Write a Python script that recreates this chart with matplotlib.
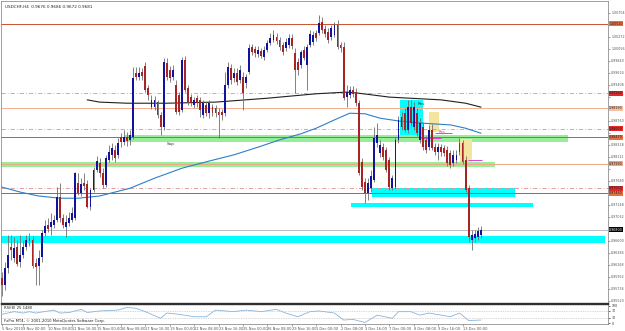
import numpy as np
import matplotlib
matplotlib.use('Agg')
import matplotlib.pyplot as plt
import matplotlib.transforms as mtransforms

title = 'USDCHF,H4  0.9676 0.9686 0.9672 0.9681'

# H4 bars, 5 Nov 2010 20:00 .. 14 Dec 2010 00:00
opens = [
    0.9593, 0.9581, 0.9611, 0.9649, 0.9629, 0.9649, 0.9622, 0.9635, 0.9649, 0.9665,
    0.9662, 0.9620, 0.9615, 0.9631, 0.9674, 0.9689, 0.9685, 0.9689, 0.9698, 0.9739,
    0.9701, 0.9685, 0.9692, 0.9698, 0.9701, 0.9764, 0.9746, 0.9764, 0.9763, 0.9721,
    0.9752, 0.9788, 0.9800, 0.9782, 0.9761, 0.9806, 0.9815, 0.9824, 0.9815, 0.9847,
    0.9838, 0.9847, 0.9842, 0.9847, 0.9962, 0.9955, 0.9964, 0.9975, 0.9935, 0.9901,
    0.9901, 0.9910, 0.9887, 0.9865, 0.9980, 0.9968, 0.9955, 0.9941, 0.9923, 0.9896,
    0.9986, 0.9935, 0.9919, 0.9905, 0.9917, 0.9914, 0.9887, 0.9905, 0.9890, 0.9901,
    0.9899, 0.9892, 0.9892, 0.9890, 0.9941, 0.9971, 0.9953, 0.9962, 0.9950, 0.9955,
    0.9944, 0.9964, 1.0009, 1.0006, 0.9997, 1.0002, 0.9991, 1.0004, 1.0016, 1.0022,
    1.0027, 1.0022, 1.0013, 1.0007, 1.0013, 1.0025, 0.9998, 0.9982, 0.9977, 1.0004,
    0.9977, 1.0013, 1.0018, 1.0034, 1.0034, 1.0054, 1.0042, 1.0036, 1.0027, 1.0031,
    1.0049, 1.0013, 1.0009, 0.9919, 0.9923, 0.9932, 0.9928, 0.9908, 0.9802, 0.9766,
    0.9746, 0.9755, 0.9770, 0.9836, 0.9818, 0.9829, 0.9824, 0.9806, 0.9755, 0.9757,
    0.9842, 0.9865, 0.9890, 0.9860, 0.9901, 0.9865, 0.9890, 0.9842, 0.9865, 0.9842,
    0.9829, 0.9860, 0.9829, 0.9820, 0.9829, 0.9827, 0.9824, 0.9818, 0.9800, 0.9806,
    0.9836, 0.9836, 0.9806, 0.9755, 0.9662, 0.9665, 0.9667, 0.9671]
closes = [
    0.9581, 0.9611, 0.9635, 0.9644, 0.9647, 0.9619, 0.9635, 0.9649, 0.9662, 0.9660,
    0.9615, 0.9613, 0.9629, 0.9674, 0.9687, 0.9682, 0.9694, 0.9698, 0.9739, 0.9701,
    0.9689, 0.9694, 0.9701, 0.9710, 0.9782, 0.9746, 0.9763, 0.9759, 0.9721, 0.9752,
    0.9788, 0.9804, 0.9782, 0.9761, 0.9809, 0.9820, 0.9827, 0.9809, 0.9836, 0.9838,
    0.9847, 0.9840, 0.9851, 0.9953, 0.9955, 0.9962, 0.9957, 0.9932, 0.9923, 0.9914,
    0.9914, 0.9887, 0.9865, 0.9982, 0.9955, 0.9953, 0.9968, 0.9892, 0.9892, 0.9986,
    0.9932, 0.9910, 0.9908, 0.9914, 0.9908, 0.9896, 0.9908, 0.9890, 0.9908, 0.9890,
    0.9890, 0.9887, 0.9887, 0.9941, 0.9973, 0.9950, 0.9962, 0.9946, 0.9968, 0.9926,
    0.9955, 1.0007, 1.0000, 0.9998, 1.0004, 0.9993, 1.0004, 1.0016, 1.0025, 1.0031,
    1.0020, 1.0009, 1.0000, 1.0018, 1.0025, 1.0011, 0.9968, 0.9968, 1.0000, 0.9989,
    1.0009, 1.0033, 1.0031, 1.0025, 1.0052, 1.0040, 1.0033, 1.0022, 1.0043, 1.0049,
    1.0009, 1.0007, 0.9917, 0.9928, 0.9932, 0.9925, 0.9908, 0.9782, 0.9757, 0.9746,
    0.9764, 0.9777, 0.9845, 0.9851, 0.9833, 0.9811, 0.9788, 0.9757, 0.9773, 0.9842,
    0.9878, 0.9883, 0.9860, 0.9901, 0.9872, 0.9901, 0.9854, 0.9872, 0.9829, 0.9824,
    0.9860, 0.9827, 0.9820, 0.9829, 0.9820, 0.9818, 0.9800, 0.9797, 0.9815, 0.9815,
    0.9820, 0.9802, 0.9752, 0.9667, 0.9671, 0.9673, 0.9678, 0.9680]
highs = [
    0.9604, 0.9622, 0.9671, 0.9671, 0.9667, 0.9662, 0.9671, 0.9662, 0.9671, 0.9674,
    0.9669, 0.9629, 0.9644, 0.9680, 0.9698, 0.9701, 0.9710, 0.9707, 0.9757, 0.9764,
    0.9709, 0.9707, 0.9712, 0.9721, 0.9784, 0.9782, 0.9773, 0.9782, 0.9770, 0.9755,
    0.9793, 0.9813, 0.9809, 0.9791, 0.9815, 0.9833, 0.9836, 0.9833, 0.9845, 0.9854,
    0.9860, 0.9856, 0.9860, 0.9973, 0.9973, 0.9973, 0.9971, 0.9982, 0.9941, 0.9923,
    0.9921, 0.9914, 0.9892, 0.9989, 0.9989, 0.9975, 0.9977, 0.9950, 0.9928, 0.9991,
    0.9993, 0.9941, 0.9925, 0.9919, 0.9923, 0.9919, 0.9914, 0.9910, 0.9914, 0.9907,
    0.9905, 0.9899, 0.9898, 0.9964, 0.9982, 0.9979, 0.9971, 0.9971, 0.9977, 0.9964,
    0.9961, 1.0015, 1.0015, 1.0011, 1.0011, 1.0007, 1.0011, 1.0022, 1.0034, 1.0040,
    1.0034, 1.0027, 1.0018, 1.0025, 1.0033, 1.0033, 1.0007, 0.9989, 1.0004, 1.0011,
    1.0015, 1.0040, 1.0038, 1.0040, 1.0067, 1.0063, 1.0049, 1.0043, 1.0049, 1.0054,
    1.0058, 1.0018, 1.0018, 0.9941, 0.9939, 0.9939, 0.9935, 0.9914, 0.9809, 0.9773,
    0.9773, 0.9788, 0.9865, 0.9872, 0.9842, 0.9836, 0.9829, 0.9811, 0.9779, 0.9847,
    0.9885, 0.9892, 0.9899, 0.9914, 0.9914, 0.9910, 0.9899, 0.9881, 0.9874, 0.9849,
    0.9869, 0.9871, 0.9836, 0.9836, 0.9835, 0.9833, 0.9831, 0.9824, 0.9824, 0.9824,
    0.9845, 0.9842, 0.9813, 0.9761, 0.9680, 0.9680, 0.9685, 0.9687]
lows = [
    0.9561, 0.9572, 0.9602, 0.9626, 0.9622, 0.9615, 0.9613, 0.9629, 0.9644, 0.9651,
    0.9611, 0.9581, 0.9581, 0.9622, 0.9669, 0.9676, 0.9671, 0.9683, 0.9694, 0.9694,
    0.9683, 0.9667, 0.9687, 0.9694, 0.9698, 0.9743, 0.9741, 0.9752, 0.9719, 0.9716,
    0.9748, 0.9784, 0.9775, 0.9755, 0.9757, 0.9802, 0.9806, 0.9802, 0.9809, 0.9829,
    0.9833, 0.9831, 0.9833, 0.9844, 0.9950, 0.9950, 0.9950, 0.9928, 0.9914, 0.9898,
    0.9896, 0.9881, 0.9851, 0.9860, 0.9950, 0.9946, 0.9950, 0.9889, 0.9887, 0.9892,
    0.9928, 0.9905, 0.9903, 0.9899, 0.9901, 0.9883, 0.9881, 0.9885, 0.9881, 0.9885,
    0.9883, 0.9845, 0.9878, 0.9885, 0.9935, 0.9943, 0.9946, 0.9941, 0.9944, 0.9896,
    0.9935, 0.9961, 0.9995, 0.9991, 0.9991, 0.9989, 0.9986, 1.0000, 1.0013, 1.0018,
    1.0015, 1.0004, 0.9995, 1.0002, 1.0007, 1.0006, 0.9926, 0.9959, 0.9971, 0.9986,
    0.9932, 1.0009, 1.0013, 1.0020, 1.0031, 1.0034, 1.0027, 1.0016, 1.0022, 1.0027,
    1.0006, 1.0000, 0.9914, 0.9901, 0.9917, 0.9919, 0.9903, 0.9779, 0.9752, 0.9728,
    0.9734, 0.9748, 0.9766, 0.9829, 0.9811, 0.9806, 0.9784, 0.9752, 0.9752, 0.9754,
    0.9836, 0.9860, 0.9856, 0.9854, 0.9867, 0.9860, 0.9849, 0.9836, 0.9824, 0.9818,
    0.9824, 0.9824, 0.9815, 0.9806, 0.9813, 0.9813, 0.9795, 0.9791, 0.9795, 0.9800,
    0.9815, 0.9799, 0.9748, 0.9658, 0.9644, 0.9658, 0.9662, 0.9665]

# moving averages (bar index, price)
ma_blue_x = [0, 6, 12, 19, 25, 32, 42, 50, 59, 68, 76, 84, 91, 98, 103, 109,
             114, 119, 124, 130, 138, 147, 152, 157]
ma_blue_y = [0.9757, 0.9748, 0.9741, 0.9737, 0.9737, 0.9741, 0.9755, 0.9773,
             0.9791, 0.9804, 0.9815, 0.9829, 0.9842, 0.9853, 0.9863, 0.9878,
             0.9890, 0.9889, 0.9881, 0.9876, 0.9872, 0.9869, 0.9863, 0.9854]
ma_black_x = [28, 32, 41, 54, 70, 87, 103, 113, 117, 127, 144, 152, 157]
ma_black_y = [0.9914, 0.9910, 0.9908, 0.9908, 0.9910, 0.9917, 0.9925, 0.9928,
              0.9926, 0.9919, 0.9914, 0.9908, 0.9901]

# RSI(8) (bar index, value)
rsi_x = [0, 4, 7, 9, 11, 17, 19, 22, 26, 28, 32, 38, 41, 44, 47, 52, 54, 58,
         63, 67, 70, 76, 80, 85, 90, 93, 97, 101, 104, 109, 112, 115, 119,
         123, 128, 130, 134, 137, 140, 144, 147, 150, 153, 157]
rsi_y = [50, 65, 57, 65, 57, 74, 57, 60, 78, 60, 69, 74, 89, 84, 65, 27, 57, 50,
         36, 36, 74, 65, 74, 65, 78, 57, 36, 65, 69, 57, 17, 21, 3,
         45, 27, 65, 65, 45, 57, 45, 36, 57, 14, 17]

# horizontal levels: price, line colour, style, label box colour
levels = [(1.0051, '#cc5030', '-', '#e8703e'),
          (0.9926, '#e09090', 'dashdot', '#e02828'),
          (0.9899, '#f2b090', '-', '#f8c0a0'),
          (0.9862, '#e09090', 'dashdot', '#e02828'),
          (0.9847, '#b8662a', '-', '#e8703e'),
          (0.9799, '#eea888', '-', '#f2a47c'),
          (0.9755, '#e09090', 'dashdot', '#e02828'),
          (0.9746, '#cc5030', '-', '#e8703e')]
last_price = 0.9680

# zones: x0, x1, price top, price bottom, colour
zones = [(40.3, 185.6, 0.9851, 0.9838, '#98ee98'),
         (-0.3, 161.6, 0.9803, 0.9793, '#98ee98'),
         (121.3, 168.2, 0.9755, 0.9739, '#00ffff'),
         (114.4, 174.1, 0.9728, 0.9721, '#00ffff'),
         (-0.7, 197.7, 0.9669, 0.9656, '#00ffff'),
         (130.5, 138.0, 0.9914, 0.9851, '#00ffff'),
         (140.0, 143.3, 0.9892, 0.9856, '#f3e4a0'),
         (150.2, 154.1, 0.9843, 0.9802, '#f3e4a0')]

date_pos = [0] + [7 + 8 * k for k in range(19)]
date_lbl = ['5 Nov 2010', '9 Nov 00:00', '10 Nov 08:00', '11 Nov 16:00', '15 Nov 00:00',
            '16 Nov 08:00', '17 Nov 16:00', '19 Nov 00:00', '22 Nov 08:00',
            '23 Nov 16:00', '25 Nov 00:00', '26 Nov 08:00', '29 Nov 16:00',
            '1 Dec 00:00', '2 Dec 08:00', '3 Dec 16:00', '7 Dec 00:00',
            '8 Dec 08:00', '9 Dec 16:00', '13 Dec 00:00']

o = np.array(opens); c = np.array(closes)
h = np.array(highs); l = np.array(lows)
idx = np.arange(len(c))

fig = plt.figure(figsize=(6.25, 3.31), dpi=100)
ax = fig.add_axes([0.0016, 0.0846, 0.9712, 0.9124])
ax2 = fig.add_axes([0.0016, 0.0211, 0.9712, 0.0604])

xmin, xmax = -0.33, 198.69
ax.set_xlim(xmin, xmax)
ax.set_ylim(0.95484, 1.0092)

for x0, x1, top, bot, col in zones:
    ax.fill_between([x0, x1], bot, top, color=col, lw=0, zorder=1)

for p, col, ls, boxcol in levels:
    if ls == 'dashdot':
        ax.axhline(p, color=col, ls=(0, (5, 2.5, 1, 2.5)), lw=0.6, zorder=2)
    else:
        ax.axhline(p, color=col, lw=0.7, zorder=2)
ax.axhline(last_price, color='#b0b0b0', lw=0.6, zorder=2)

# short magenta marks
ax.hlines([0.9854, 0.9845, 0.9806], [142.0, 137.5, 152.8], [147.5, 144.0, 157.4],
          color='#e040e0', lw=0.7, zorder=3)

ax.plot(ma_blue_x, ma_blue_y, color='#2f7fc8', lw=0.8, zorder=3)
ax.plot(ma_black_x, ma_black_y, color='#202020', lw=0.8, zorder=3)

ax.vlines(idx, l, h, color='#6e6e6e', lw=0.6, zorder=4)
up = c >= o
ax.bar(idx[up], np.maximum(c - o, 0.00006)[up], bottom=o[up], width=0.62,
       color='#12129c', lw=0, zorder=5)
ax.bar(idx[~up], np.maximum(o - c, 0.00006)[~up], bottom=c[~up], width=0.62,
       color='#a82424', lw=0, zorder=5)

ax.text(54, 0.9834, 'Sup', fontsize=3.0, color='#333333', va='center', zorder=6)
ax.text(136.2, 0.9907, 'Res', fontsize=3.0, color='#333333', va='center', zorder=6)
ax.text(143.3, 0.9857, 'Res', fontsize=2.7, color='#d040b0', va='center', zorder=6)
ax.text(0.007, 0.988, title, transform=ax.transAxes, fontsize=3.0,
        color='#222222', va='top', ha='left')

# right price scale; labels under the level boxes are hidden
ticks = [0.9984 + 0.00216 * k for k in range(-20, 5)]
covered = [p for p, *_ in levels] + [last_price]
ax.yaxis.tick_right()
ax.set_yticks(ticks)
ax.set_yticklabels(['' if min(abs(t - q) for q in covered) < 0.0011 else '%.5f' % t
                    for t in ticks], fontsize=2.3, color='#333333')
ax.tick_params(axis='y', length=1.5, width=0.4, pad=0.8, colors='#555555')
ax.set_xticks([])

trans = mtransforms.blended_transform_factory(ax.transAxes, ax.transData)
for p, col, ls, boxcol in levels:
    ax.text(1.002, p, '%.5f' % p, transform=trans, fontsize=2.3, color='#202020',
            va='center', ha='left', zorder=7,
            bbox=dict(boxstyle='square,pad=0.15', fc=boxcol, ec='none'))
ax.text(1.002, last_price, '%.5f' % last_price, transform=trans, fontsize=2.3,
        color='white', va='center', ha='left', zorder=7,
        bbox=dict(boxstyle='square,pad=0.15', fc='black', ec='none'))

for s in ax.spines.values():
    s.set_color('#909090'); s.set_linewidth(0.6)
ax.spines['bottom'].set_color('#303030'); ax.spines['bottom'].set_linewidth(1.0)

# RSI window
ax2.set_xlim(xmin, xmax)
ax2.set_ylim(-5.7, 108.6)
ax2.plot(rsi_x, rsi_y, color='#8ab4dc', lw=0.6)
for lv in (70, 30):
    ax2.axhline(lv, color='#b0b0b0', ls=(0, (1, 1.5)), lw=0.5)
ax2.yaxis.tick_right()
ax2.set_yticks([100, 70, 30, 0])
ax2.set_yticklabels(['100', '70', '30', '0'], fontsize=2.3, color='#333333')
ax2.tick_params(axis='y', length=1.5, width=0.4, pad=1)
ax2.set_xticks(date_pos)
ax2.set_xticklabels(date_lbl, fontsize=2.6, color='#333333', ha='left')
ax2.tick_params(axis='x', length=1.5, width=0.4, pad=0.8, colors='#555555')
ax2.text(0.005, 0.82, 'RSI(8) 25.1480', transform=ax2.transAxes, fontsize=2.7,
         color='#222222', va='center')
ax2.text(0.005, 0.14, 'FxPro MT4, \u00a9 2001-2010 MetaQuotes Software Corp.',
         transform=ax2.transAxes, fontsize=2.7, color='#222222', va='center')
for s in ax2.spines.values():
    s.set_color('#909090'); s.set_linewidth(0.6)
ax2.spines['top'].set_color('#303030'); ax2.spines['top'].set_linewidth(1.0)

fig.savefig('out.png', dpi=100, facecolor='white')
